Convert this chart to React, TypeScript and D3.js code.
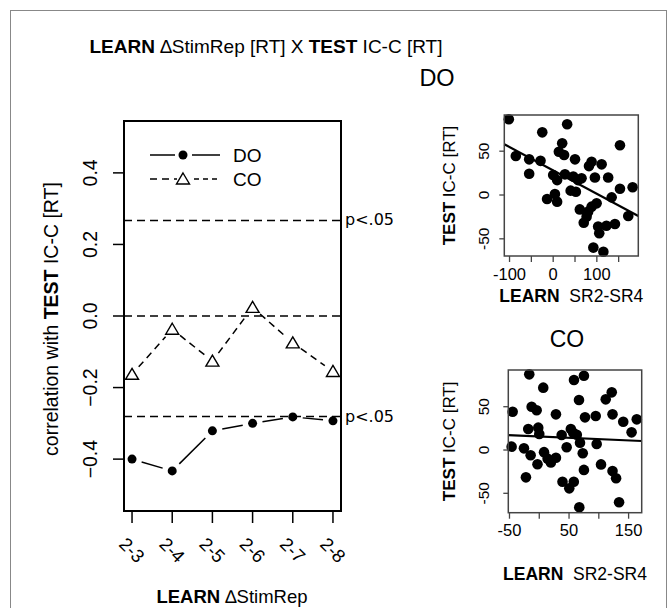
import React from 'react';
import * as d3 from 'd3';

// main panel: correlation by LEARN ΔStimRep contrast
const CATS = ['2-3', '2-4', '2-5', '2-6', '2-7', '2-8'];
const DO_R = [-0.4, -0.433, -0.321, -0.3, -0.282, -0.293];
const CO_R = [-0.163, -0.037, -0.126, 0.024, -0.075, -0.155];
const Y_TICKS = [-0.4, -0.2, 0, 0.2, 0.4];
const REF_LINES = [0.267, 0, -0.281];
const P_LINES = [0.267, -0.281];

// DO scatter (LEARN SR2-SR4 vs TEST IC-C)
const DO_X = [-101.6, 32, -25, 20.6, 153, 13, 25, -85.6, 50, -55, -29, 88, 111, 82, -55, 27, 0, 46, 95.6, 126, 65, 9, 57, 182, 153, 52, 40, 4, -14, 9, 134, 99.5, 88, 61, 80, 172, 76.5, 70, 141.5, 122, 103, 105.5, 92, 115];
const DO_Y = [86.4, 80.7, 71.5, 59, 56.7, 49.4, 45.7, 44.5, 40.7, 40.7, 39, 38, 35, 33, 24.3, 23.6, 22.8, 21, 20, 20, 19, 17, 17, 8.8, 7.2, 3.8, 5, 1.1, -4.6, -7.6, -2.7, -9.5, -13.3, -16.4, -19, -24, -24.7, -31.6, -33, -35, -36, -43.7, -60, -64.7];
const DO_FIT_X = [-112, 195];
const DO_FIT_Y = [58, -24];

// CO scatter
const CO_X = [-16.8, 75, 58.3, 6.7, 121.7, 111.6, 66.7, -12.8, -4.4, -44.7, 28, 123, 76.8, 94.8, 163.7, 141, 155, -18.5, -1.7, 0, 53, 57, 63, 37.6, 68.4, 96.4, -46.4, 46, -25.7, 8, 73, -14.5, 28, 14, 19.5, -3, 103.7, 75, 123, -22.4, 129, 39, 58, 50.4, 134, 67.2];
const CO_Y = [87.4, 85.8, 80.8, 72, 66.6, 58.5, 57.7, 50, 46, 44.2, 41.2, 41.2, 37.7, 39.3, 35.4, 32.7, 20.4, 24.2, 25.8, 18.5, 24.2, 20, 17.6, 17.3, 8.5, 7, 3.9, 3.1, 1.9, -2.5, -3.8, -6, -9, -10, -14.5, -16.5, -16.6, -23, -24.3, -31.6, -32.7, -36.6, -36.6, -44.3, -60.4, -66.2];
const CO_FIT_X = [-52, 172];
const CO_FIT_Y = [17.3, 10.4];

const FONT = '"Liberation Sans", Arial, Helvetica, sans-serif';

// segments between points with a gap around each point (like R type="b")
function gapSegments(pts: [number, number][], g: number) {
  const segs: number[][] = [];
  for (let i = 0; i < pts.length - 1; i++) {
    const [x1, y1] = pts[i];
    const [x2, y2] = pts[i + 1];
    const d = Math.hypot(x2 - x1, y2 - y1);
    if (d <= 2 * g) continue;
    const ux = (x2 - x1) / d, uy = (y2 - y1) / d;
    segs.push([x1 + ux * g, y1 + uy * g, x2 - ux * g, y2 - uy * g]);
  }
  return segs;
}

const triangle = (x: number, y: number) => `M${x},${y - 6}L${x + 6.5},${y + 5}L${x - 6.5},${y + 5}Z`;

type ScatterProps = {
  xs: number[]; ys: number[]; fitX: number[]; fitY: number[];
  xDom: number[]; yDom: number[]; box: number[];
  xTicks: number[]; xLabelTicks: number[]; yTicks: number[];
  tickBase: number; xlabBase: number; ylabX: number; yTickX: number;
};

function Scatter(p: ScatterProps) {
  const [l, t, r, b] = p.box;
  const x = d3.scaleLinear().domain(p.xDom).range([l, r]);
  const y = d3.scaleLinear().domain(p.yDom).range([b, t]);
  const line = d3.line<number>().x((_, i) => x(p.fitX[i])).y((_, i) => y(p.fitY[i]));
  return (
    <g fontFamily={FONT}>
      {p.xs.map((v, i) => (
        <circle key={i} cx={x(v)} cy={y(p.ys[i])} r={5.3} fill="#000" />
      ))}
      <path d={line(p.fitX) || ''} stroke="#000" strokeWidth={2.2} fill="none" />
      <rect x={l} y={t} width={r - l} height={b - t} fill="none" stroke="#444" strokeWidth={1.5} />
      {p.xTicks.map(v => (
        <line key={v} x1={x(v)} x2={x(v)} y1={b} y2={b + 6} stroke="#444" strokeWidth={1.3} />
      ))}
      {p.xLabelTicks.map(v => (
        <text key={v} x={x(v)} y={p.tickBase} textAnchor="middle" fontSize={16.5}>{v}</text>
      ))}
      {p.yTicks.map(v => (
        <g key={v}>
          <line x1={l - 5} x2={l} y1={y(v)} y2={y(v)} stroke="#444" strokeWidth={1.3} />
          <text transform={`translate(${p.yTickX},${y(v)}) rotate(-90)`} textAnchor="middle" fontSize={15.5}>{v}</text>
        </g>
      ))}
      <text x={(l + r) / 2} y={p.xlabBase} textAnchor="middle" fontSize={17.5}>
        <tspan fontWeight="bold">LEARN</tspan>{'\u00a0 SR2-SR4'}
      </text>
      <text transform={`translate(${p.ylabX},${(t + b) / 2}) rotate(-90)`} textAnchor="middle" fontSize={17}>
        <tspan fontWeight="bold">TEST</tspan> IC-C [RT]
      </text>
    </g>
  );
}

export default function App() {
  const box = [124, 121, 341, 511];
  const x = d3.scaleLinear().domain([0.8, 6.2]).range([box[0], box[2]]);
  const y = d3.scaleLinear().domain([-0.545, 0.545]).range([box[3], box[1]]);
  const doPts = DO_R.map((v, i) => [x(i + 1), y(v)] as [number, number]);
  const coPts = CO_R.map((v, i) => [x(i + 1), y(v)] as [number, number]);
  const fmt = d3.format('.1f');

  return (
    <>
      <style>{`body{margin:0}`}</style>
      <svg width={672} height={608} style={{ display: 'block', background: '#fff' }} fontFamily={FONT}>
        <rect x={10.5} y={10.5} width={656} height={620} fill="none" stroke="#888" strokeWidth={1} />

        <text x={266} y={53} textAnchor="middle" fontSize={19}>
          <tspan fontWeight="bold">LEARN</tspan> {'\u2206StimRep [RT] X '}
          <tspan fontWeight="bold">TEST</tspan> IC-C [RT]
        </text>
        <text x={437} y={86} textAnchor="middle" fontSize={23.5}>DO</text>
        <text x={567} y={347} textAnchor="middle" fontSize={23}>CO</text>

        {/* reference lines */}
        {REF_LINES.map(v => (
          <line key={v} x1={box[0]} x2={box[2]} y1={y(v)} y2={y(v)} stroke="#000" strokeWidth={1.4} strokeDasharray="8,5" />
        ))}
        {P_LINES.map(v => (
          <text key={v} x={345} y={y(v) + 5} fontSize={16} fontFamily='"DejaVu Sans", sans-serif'>p&lt;.05</text>
        ))}

        {/* series */}
        {gapSegments(doPts, 10).map((s, i) => (
          <line key={'d' + i} x1={s[0]} y1={s[1]} x2={s[2]} y2={s[3]} stroke="#000" strokeWidth={1.5} />
        ))}
        {gapSegments(coPts, 10).map((s, i) => (
          <line key={'c' + i} x1={s[0]} y1={s[1]} x2={s[2]} y2={s[3]} stroke="#000" strokeWidth={1.5} strokeDasharray="7,5" />
        ))}
        {doPts.map(([px, py], i) => <circle key={i} cx={px} cy={py} r={4.5} fill="#000" />)}
        {coPts.map(([px, py], i) => <path key={i} d={triangle(px, py)} fill="#fff" stroke="#000" strokeWidth={1.4} />)}

        {/* legend */}
        <g>
          <line x1={150} x2={175} y1={155} y2={155} stroke="#000" strokeWidth={1.5} />
          <line x1={192} x2={220} y1={155} y2={155} stroke="#000" strokeWidth={1.5} />
          <circle cx={183} cy={155} r={4.5} fill="#000" />
          <text x={233} y={162} fontSize={19}>DO</text>
          <line x1={150} x2={177} y1={179} y2={179} stroke="#000" strokeWidth={1.5} strokeDasharray="7,5" />
          <line x1={194} x2={220} y1={179} y2={179} stroke="#000" strokeWidth={1.5} strokeDasharray="5,4" />
          <path d={triangle(183, 179)} fill="#fff" stroke="#000" strokeWidth={1.4} />
          <text x={233} y={186} fontSize={19}>CO</text>
        </g>

        <rect x={box[0]} y={box[1]} width={box[2] - box[0]} height={box[3] - box[1]} fill="none" stroke="#000" strokeWidth={2} />

        {/* y axis */}
        {Y_TICKS.map(v => (
          <g key={v}>
            <line x1={box[0] - 11} x2={box[0]} y1={y(v)} y2={y(v)} stroke="#000" strokeWidth={1.5} />
            <text transform={`translate(97,${y(v)}) rotate(-90)`} textAnchor="middle" fontSize={19.5}>{fmt(v)}</text>
          </g>
        ))}
        <text transform={`translate(58,319) rotate(-90)`} textAnchor="middle" fontSize={19.5}>
          correlation with <tspan fontWeight="bold">TEST</tspan> IC-C [RT]
        </text>

        {/* x axis */}
        {CATS.map((c, i) => (
          <g key={c}>
            <line x1={x(i + 1)} x2={x(i + 1)} y1={box[3]} y2={box[3] + 12} stroke="#000" strokeWidth={1.5} />
            <text transform={`translate(${x(i + 1)},550) rotate(45)`} textAnchor="middle" dominantBaseline="central" fontSize={18.5}>{c}</text>
          </g>
        ))}
        <text x={232} y={603} textAnchor="middle" fontSize={18.5}>
          <tspan fontWeight="bold">LEARN</tspan> {'\u2206StimRep'}
        </text>

        <Scatter xs={DO_X} ys={DO_Y} fitX={DO_FIT_X} fitY={DO_FIT_Y}
          xDom={[-112, 195]} yDom={[-69.6, 91.3]} box={[504.3, 115, 638.3, 256]}
          xTicks={[-100, -50, 0, 50, 100, 150]} xLabelTicks={[-100, 0, 100]} yTicks={[-50, 0, 50]}
          tickBase={280} xlabBase={302} ylabX={455} yTickX={489} />
        <Scatter xs={CO_X} ys={CO_Y} fitX={CO_FIT_X} fitY={CO_FIT_Y}
          xDom={[-52, 172]} yDom={[-72.4, 92.4]} box={[508.3, 370, 641.7, 512.7]}
          xTicks={[-50, 0, 50, 100, 150]} xLabelTicks={[-50, 50, 150]} yTicks={[-50, 0, 50]}
          tickBase={536} xlabBase={580} ylabX={455} yTickX={489} />
      </svg>
    </>
  );
}
